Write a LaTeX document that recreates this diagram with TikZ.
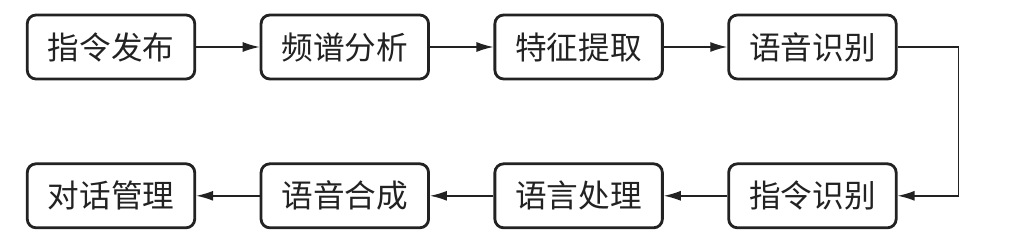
\documentclass[tikz,border=0pt]{standalone}
\usepackage{fontspec}
\setmainfont{Noto Sans CJK SC}
\usepackage{xcolor}
\usetikzlibrary{arrows.meta, positioning}
\definecolor{myink}{HTML}{222222}

\begin{document}
\begin{tikzpicture}[
      box/.style={rectangle, rounded corners=5pt, draw=myink, line width=1.6pt,
                  fill=white, minimum width=3.35cm, minimum height=1.28cm,
                  font=\fontsize{18}{20}\selectfont, text=myink, align=center},
      arr/.style={-{Latex[length=0.34cm, width=0.2cm]}, line width=0.8pt, myink}
    ]
      \useasboundingbox (0,0) rectangle (20.52,-4.8);
      \node[box] (cmd) at (2.22,-0.94) {指令发布};
      \node[box, right=1.27cm of cmd] (spec) {频谱分析};
      \node[box, right=1.27cm of spec] (feat) {特征提取};
      \node[box, right=1.27cm of feat] (asr) {语音识别};
      \node[box, below=1.64cm of asr] (cmdrec) {指令识别};
      \node[box, left=1.27cm of cmdrec] (nlp) {语言处理};
      \node[box, left=1.27cm of nlp] (tts) {语音合成};
      \node[box, left=1.27cm of tts] (dlg) {对话管理};
      \draw[arr] (cmd) -- (spec);
      \draw[arr] (spec) -- (feat);
      \draw[arr] (feat) -- (asr);
      \draw[arr] (asr.east) -- ++(1.22,0) |- (cmdrec.east);
      \draw[arr] (cmdrec) -- (nlp);
      \draw[arr] (nlp) -- (tts);
      \draw[arr] (tts) -- (dlg);
    \end{tikzpicture}
\end{document}
